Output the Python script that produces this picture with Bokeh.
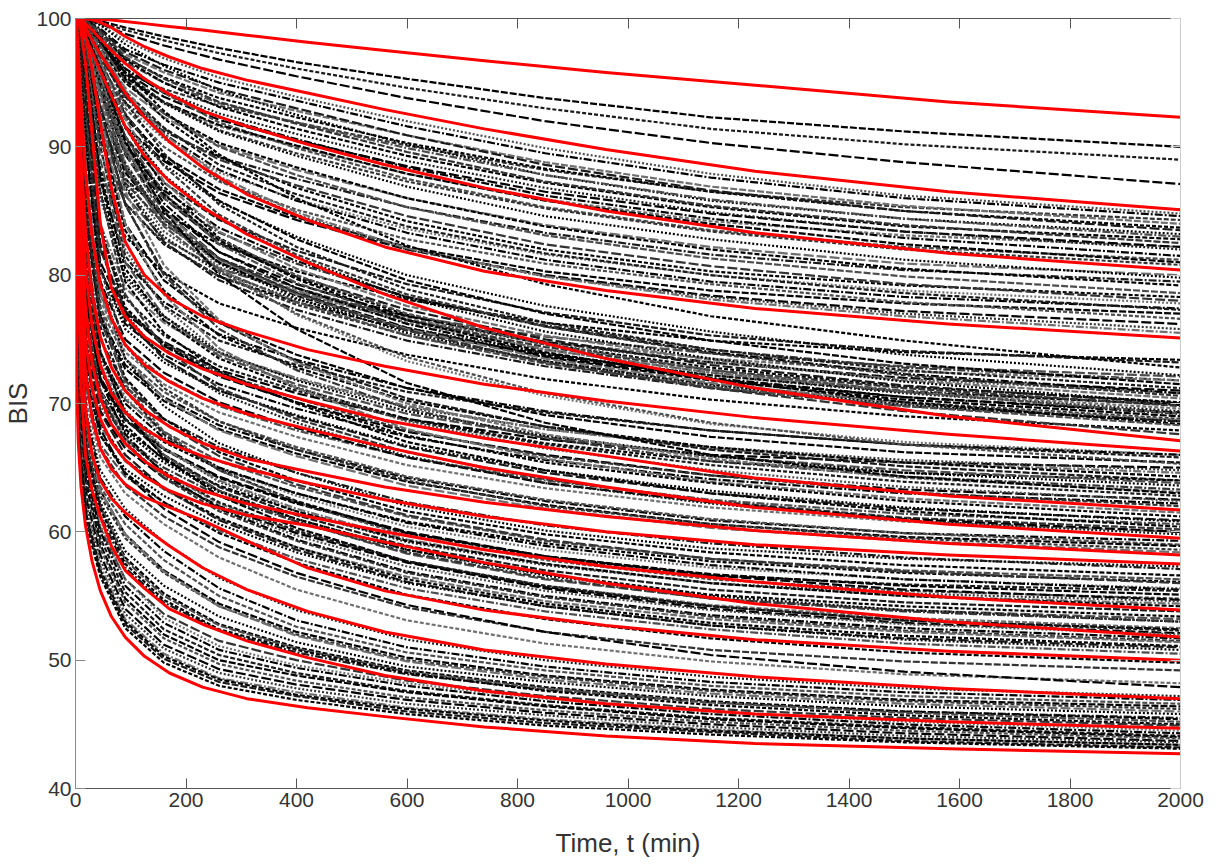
from bokeh.plotting import figure
from bokeh.models import Range1d, LinearAxis, FixedTicker
from bokeh.embed import file_html
from bokeh.resources import INLINE

# Sampling times (min): fine grid for the highlighted curves, coarser for the rest
time_red = [0, 2, 5, 10, 18, 30, 45, 65, 90, 125, 170, 230, 310, 420, 560, 740, 960, 1230, 1580, 2000]
time_black = [0, 3, 8, 20, 45, 90, 160, 260, 400, 600, 850, 1150, 1500, 2000]

# Highlighted (red) BIS trajectories, slow onset
red_slow = [
    [100, 100, 100, 100, 100, 99.99, 99.95, 99.88, 99.77, 99.6, 99.38, 99.1, 98.7, 98.15, 97.5, 96.7, 95.8, 94.8, 93.5, 92.3],
    [100, 100, 100, 100, 99.97, 99.9, 99.7, 99.3, 98.6, 97.8, 97.0, 96.1, 95.2, 94.2, 92.9, 91.4, 89.8, 88.1, 86.5, 85.1],
    [100, 100, 99.98, 99.9, 99.6, 99.1, 98.4, 97.5, 96.5, 95.3, 94.1, 92.8, 91.6, 90.2, 88.6, 86.8, 85.0, 83.3, 81.7, 80.4],
    [100, 100, 99.95, 99.8, 99.3, 98.3, 97.2, 95.9, 94.2, 92.3, 90.4, 88.4, 86.3, 84.3, 82.2, 80.3, 78.8, 77.4, 76.2, 75.1],
    [100, 99.97, 99.8, 99.2, 98.5, 97.4, 95.9, 94.0, 91.6, 89.3, 87.3, 85.3, 83.2, 81.0, 78.5, 75.9, 73.5, 71.2, 69.0, 67.1],
    [100, 99.99, 99.95, 99.8, 98.8, 96.0, 91.8, 86.8, 82.6, 80.0, 78.2, 76.8, 75.6, 74.2, 72.9, 71.5, 70.2, 68.9, 67.6, 66.3],
    [100, 99.97, 99.8, 99.0, 96.5, 91.0, 84.0, 79.0, 76.8, 75.2, 73.9, 72.7, 71.5, 70.2, 68.7, 67.3, 65.9, 64.2, 62.8, 61.7],
]

# Highlighted (red) BIS trajectories, fast onset
red_fast = [
    [100, 99.5, 97.5, 93.5, 88.0, 83.0, 79.3, 76.6, 74.6, 73.0, 71.7, 70.4, 69.2, 68.0, 66.6, 65.0, 63.5, 61.9, 60.6, 59.5],
    [100, 99.0, 95.5, 89.5, 83.5, 78.5, 75.2, 72.8, 71.0, 69.5, 68.2, 66.9, 65.7, 64.7, 63.5, 62.3, 61.2, 60.1, 59.1, 58.2],
    [100, 98.5, 93.5, 86.5, 80.5, 76.0, 73.0, 70.8, 69.3, 68.0, 66.9, 65.9, 64.9, 63.8, 62.5, 61.2, 60.0, 59.0, 58.2, 57.5],
    [100, 97.5, 91.0, 83.5, 77.5, 73.2, 70.4, 68.4, 66.9, 65.5, 64.3, 63.2, 62.2, 61.2, 60.0, 58.6, 57.3, 56.1, 54.9, 53.9],
    [100, 96.5, 89.0, 81.0, 75.0, 71.2, 68.8, 67.0, 65.6, 64.3, 63.2, 62.2, 61.3, 60.5, 59.2, 57.6, 56.0, 54.4, 53.0, 51.8],
    [100, 95.0, 86.5, 78.5, 72.5, 68.8, 66.5, 64.9, 63.7, 62.7, 61.9, 60.9, 59.3, 57.2, 55.4, 53.9, 52.7, 51.6, 50.7, 50.0],
    [100, 93.5, 84.0, 75.5, 69.5, 66.0, 64.0, 62.6, 61.5, 60.3, 58.9, 57.2, 55.5, 53.8, 52.2, 50.8, 49.7, 48.7, 47.8, 47.0],
    [100, 90.0, 79.5, 71.5, 66.0, 63.2, 61.2, 58.9, 57.0, 55.6, 54.0, 52.8, 51.5, 50.2, 48.8, 47.6, 46.6, 45.8, 45.2, 44.7],
    [100, 72.0, 67.0, 63.5, 60.5, 57.7, 55.4, 53.4, 51.8, 50.3, 49.0, 47.9, 47.0, 46.3, 45.6, 44.8, 44.1, 43.5, 43.1, 42.7],
]

# Individual (black, dashed) BIS trajectories, grouped by final level
black_high = [
    [100, 100, 100, 100, 99.8, 99.3, 98.6, 97.7, 96.6, 95.3, 93.8, 92.3, 91.2, 90.0],
    [100, 100, 100, 99.95, 99.7, 99.1, 98.3, 97.3, 96.1, 94.6, 93.0, 91.4, 90.2, 89.0],
    [100, 100, 100, 99.9, 99.6, 98.8, 97.9, 96.8, 95.5, 93.8, 92.0, 90.3, 88.8, 87.1],
    [100, 100, 100, 99.9, 99.5, 98.3, 96.9, 95.4, 93.9, 92.0, 89.9, 87.9, 86.2, 84.8],
    [100, 100, 100, 99.85, 99.2, 97.6, 96.4, 95.0, 93.6, 91.6, 89.5, 87.6, 86.0, 84.6],
    [100, 100, 99.8, 99.3, 98.0, 95.8, 94.5, 93.2, 91.9, 90.1, 88.2, 86.5, 85.3, 84.3],
    [100, 100, 99.95, 99.7, 98.9, 97.2, 95.8, 94.2, 92.8, 90.9, 88.8, 86.9, 85.4, 84.0],
    [100, 100, 99.9, 99.6, 98.7, 96.9, 95.4, 93.8, 92.3, 90.3, 88.3, 86.5, 85.0, 83.7],
    [100, 100, 100, 99.8, 99.1, 97.4, 96.0, 94.5, 93.0, 90.9, 88.6, 86.6, 85.0, 83.5],
    [100, 100, 100, 99.95, 99.5, 98.0, 96.3, 94.4, 92.5, 90.2, 87.8, 85.8, 84.4, 83.2],
    [100, 100, 99.9, 99.6, 98.6, 96.6, 95.0, 93.4, 91.9, 89.9, 87.8, 85.9, 84.4, 83.0],
    [100, 100, 99.95, 99.7, 98.8, 96.8, 95.0, 93.1, 91.4, 89.3, 87.2, 85.3, 83.8, 82.8],
    [100, 100, 100, 99.8, 99.0, 97.0, 95.3, 93.5, 91.8, 89.6, 87.3, 85.4, 83.9, 82.5],
    [100, 100, 99.8, 99.2, 97.7, 95.2, 93.4, 91.6, 90.0, 87.9, 85.9, 84.2, 83.1, 82.2],
    [100, 100, 99.9, 99.4, 98.1, 95.8, 93.9, 92.1, 90.5, 88.5, 86.5, 84.8, 83.4, 82.2],
    [100, 100, 99.9, 99.5, 98.3, 96.0, 94.3, 92.6, 91.0, 88.9, 86.8, 84.9, 83.4, 82.0],
    [100, 100, 99.9, 99.6, 98.5, 96.1, 94.2, 92.3, 90.6, 88.4, 86.2, 84.4, 82.9, 81.5],
    [100, 100, 99.95, 99.7, 98.8, 96.5, 94.2, 91.9, 89.9, 87.5, 85.3, 83.5, 82.2, 81.2],
    [100, 100, 99.8, 99.3, 97.9, 95.4, 93.5, 91.7, 90.1, 87.9, 85.8, 84.0, 82.4, 81.0],
    [100, 100, 99.9, 99.5, 98.2, 95.7, 93.5, 91.3, 89.5, 87.3, 85.2, 83.4, 82.0, 80.8],
    [100, 100, 99.8, 99.1, 97.4, 94.6, 92.3, 90.1, 88.2, 86.0, 83.9, 82.2, 80.9, 80.0],
    [100, 100, 99.85, 99.4, 98.0, 95.6, 93.4, 91.2, 89.3, 86.9, 84.6, 82.8, 81.2, 79.8],
    [100, 99.9, 99.5, 98.5, 96.3, 93.4, 91.2, 89.2, 87.5, 85.3, 83.3, 81.6, 80.4, 79.5],
    [100, 100, 99.8, 99.2, 97.6, 95.0, 92.6, 90.3, 88.4, 86.0, 83.8, 82.0, 80.5, 79.2],
    [100, 100, 99.9, 99.4, 97.9, 95.2, 92.6, 90.0, 87.8, 85.3, 83.1, 81.3, 79.9, 78.6],
    [100, 100, 99.9, 99.6, 98.3, 95.3, 92.2, 89.2, 86.8, 84.2, 82.0, 80.3, 79.2, 78.3],
    [100, 100, 99.7, 98.9, 96.9, 93.9, 91.4, 89.0, 87.0, 84.6, 82.4, 80.7, 79.3, 78.0],
    [100, 99.9, 99.6, 98.7, 96.5, 93.3, 90.6, 88.0, 85.9, 83.6, 81.6, 80.0, 78.8, 77.8],
    [100, 100, 99.8, 99.1, 97.3, 94.0, 91.0, 88.2, 85.8, 83.3, 81.2, 79.5, 78.3, 77.4],
    [100, 100, 99.8, 99.2, 97.5, 94.3, 91.5, 88.6, 86.3, 83.8, 81.7, 80.0, 78.6, 77.3],
    [100, 99.9, 99.5, 98.3, 95.8, 92.2, 89.3, 86.7, 84.5, 82.2, 80.3, 78.8, 77.8, 77.0],
    [100, 99.9, 99.6, 98.7, 96.5, 93.0, 90.0, 87.3, 85.1, 82.8, 80.9, 79.3, 77.9, 76.6],
    [100, 99.9, 99.5, 98.2, 95.4, 91.6, 88.9, 86.4, 84.3, 82.0, 80.0, 78.4, 77.2, 76.2],
    [100, 100, 99.8, 99.1, 97.2, 93.9, 90.7, 87.4, 84.7, 82.0, 79.9, 78.3, 77.0, 75.8],
    [100, 100, 99.8, 99.2, 97.6, 94.4, 91.0, 87.7, 84.9, 82.1, 79.9, 78.1, 76.8, 75.5],
]

black_upper_mid = [
    [100, 99.7, 98.8, 96.5, 92.0, 87.5, 84.8, 82.4, 80.3, 78.1, 76.3, 74.9, 74.0, 73.4],
    [100, 99.9, 99.6, 98.5, 95.5, 90.8, 87.2, 84.3, 81.9, 79.3, 77.1, 75.3, 74.1, 73.2],
    [100, 100, 99.9, 99.5, 98.3, 95.8, 92.8, 89.4, 86.0, 82.3, 79.3, 76.8, 74.9, 72.8],
    [100, 99.7, 98.9, 96.3, 91.5, 86.2, 82.8, 80.5, 78.7, 76.8, 75.2, 73.9, 72.9, 72.1],
    [100, 99.9, 99.5, 98.4, 95.6, 91.6, 88.6, 85.7, 83.0, 80.0, 77.6, 75.6, 73.8, 72.2],
    [100, 99.8, 99.3, 97.8, 94.4, 89.6, 86.2, 83.3, 80.9, 78.3, 76.1, 74.2, 72.8, 71.8],
    [100, 99.9, 99.4, 97.7, 93.8, 88.2, 84.0, 81.0, 78.8, 76.6, 74.8, 73.5, 72.5, 71.8],
    [100, 99.9, 99.7, 98.8, 96.3, 92.5, 89.1, 85.8, 82.8, 79.6, 77.0, 74.9, 73.1, 71.5],
    [100, 99.9, 99.8, 99.2, 97.3, 93.5, 89.5, 85.5, 82.2, 78.9, 76.3, 74.2, 72.6, 71.2],
    [100, 99.9, 99.5, 98.2, 95.0, 89.8, 85.2, 81.8, 79.3, 76.8, 74.8, 73.2, 72.0, 71.0],
    [100, 99.8, 99.2, 97.4, 93.2, 87.6, 83.4, 80.6, 78.6, 76.5, 74.7, 73.2, 71.9, 70.8],
    [100, 99.8, 99.2, 97.6, 94.2, 89.8, 86.6, 83.7, 81.1, 78.3, 76.0, 74.0, 72.3, 70.8],
    [100, 99.9, 99.7, 99.0, 96.8, 92.6, 88.5, 84.7, 81.6, 78.5, 76.0, 73.9, 72.2, 70.6],
    [100, 99.9, 99.7, 98.9, 96.6, 92.2, 87.3, 83.4, 80.5, 77.6, 75.3, 73.4, 71.8, 70.4],
    [100, 99.9, 99.7, 98.8, 96.2, 91.5, 86.9, 82.9, 79.8, 76.9, 74.6, 72.8, 71.3, 70.1],
    [100, 99.9, 99.6, 98.6, 95.8, 90.8, 86.0, 82.5, 79.9, 77.3, 75.0, 73.0, 71.4, 70.0],
    [100, 99.9, 99.6, 98.6, 95.8, 91.5, 87.8, 84.4, 81.4, 78.2, 75.6, 73.5, 71.7, 70.0],
    [100, 99.9, 99.5, 98.3, 95.5, 90.8, 86.4, 82.4, 79.4, 76.5, 74.2, 72.4, 71.0, 69.9],
    [100, 99.6, 98.6, 95.6, 90.5, 85.6, 82.4, 79.9, 77.9, 75.7, 73.8, 72.2, 70.9, 69.9],
    [100, 99.7, 98.8, 96.4, 92.0, 87.2, 84.0, 81.3, 79.0, 76.5, 74.4, 72.6, 71.2, 69.8],
    [100, 99.8, 99.3, 97.8, 94.3, 88.8, 84.2, 81.0, 78.7, 76.3, 74.2, 72.4, 70.9, 69.6],
    [100, 99.8, 99.4, 98.0, 94.6, 89.4, 85.0, 81.3, 78.6, 75.9, 73.7, 71.9, 70.5, 69.3],
    [100, 99.7, 99.0, 96.8, 92.5, 87.0, 83.0, 80.2, 78.1, 75.9, 73.9, 72.2, 70.8, 69.4],
    [100, 99.9, 99.6, 98.5, 95.2, 90.2, 85.6, 81.8, 79.0, 76.2, 73.9, 72.0, 70.5, 69.2],
    [100, 99.8, 99.3, 97.8, 94.4, 89.7, 86.0, 82.8, 80.0, 77.0, 74.6, 72.6, 70.9, 69.2],
    [100, 99.7, 99.0, 97.0, 93.0, 88.0, 84.4, 81.0, 78.4, 75.8, 73.6, 71.8, 70.3, 69.0],
    [100, 99.6, 98.6, 95.8, 90.5, 85.6, 82.5, 79.9, 77.7, 75.3, 73.3, 71.5, 70.1, 68.8],
    [100, 99.9, 99.6, 98.4, 95.3, 90.0, 85.0, 81.2, 78.5, 75.8, 73.5, 71.6, 70.0, 68.7],
    [100, 99.9, 99.5, 98.0, 94.2, 88.6, 84.4, 80.9, 78.2, 75.5, 73.3, 71.4, 69.9, 68.6],
    [100, 99.8, 99.1, 97.0, 92.6, 86.8, 82.6, 79.6, 77.3, 74.9, 72.9, 71.2, 69.8, 68.6],
    [100, 99.9, 99.5, 98.2, 95.0, 90.3, 86.3, 82.7, 79.7, 76.5, 74.0, 71.9, 70.1, 68.4],
    [100, 99.9, 99.5, 98.0, 94.2, 88.5, 83.8, 80.4, 77.9, 75.3, 73.1, 71.3, 69.8, 68.3],
    [100, 99.6, 98.2, 94.5, 88.2, 83.0, 80.2, 77.8, 75.9, 73.8, 71.9, 70.3, 69.0, 67.9],
    [100, 99.7, 99.0, 97.0, 93.2, 88.3, 84.5, 81.3, 78.6, 75.7, 73.2, 71.2, 69.4, 67.6],
    [100, 99.9, 99.6, 98.6, 95.5, 90.0, 85.0, 80.6, 76.9, 73.3, 70.6, 68.4, 67.0, 66.0],
    [100, 99.8, 99.0, 95.5, 87.5, 81.0, 77.9, 75.4, 73.4, 71.2, 69.4, 67.9, 66.8, 66.0],
    [100, 99.9, 99.6, 97.8, 90.0, 81.5, 77.6, 74.9, 73.0, 70.9, 69.3, 67.9, 66.8, 65.8],
    [100, 99.9, 99.4, 97.2, 91.5, 84.0, 79.6, 76.3, 73.8, 71.2, 69.1, 67.4, 66.2, 65.4],
    [100, 99.9, 99.5, 98.3, 95.0, 89.5, 84.5, 80.3, 77.0, 73.6, 70.8, 68.5, 66.8, 65.3],
    [100, 99.5, 97.5, 89.0, 81.0, 77.0, 74.8, 72.6, 70.8, 68.8, 67.2, 66.0, 65.4, 65.0],
    [100, 99.8, 99.0, 95.0, 86.0, 79.8, 76.5, 73.9, 71.9, 69.7, 68.0, 66.6, 65.6, 64.8],
    [100, 99.6, 98.4, 93.0, 84.0, 79.0, 76.3, 73.9, 72.0, 69.8, 68.0, 66.5, 65.4, 64.6],
    [100, 99.9, 99.5, 97.5, 91.0, 83.5, 78.8, 75.3, 72.8, 70.2, 68.2, 66.6, 65.4, 64.3],
    [100, 99.9, 99.5, 97.8, 93.0, 85.5, 80.2, 76.3, 73.3, 70.4, 68.2, 66.4, 65.1, 64.0],
    [100, 99.9, 99.2, 96.0, 88.0, 80.5, 76.5, 73.5, 71.2, 68.8, 66.9, 65.5, 64.6, 64.0],
    [100, 99.9, 99.3, 97.0, 89.0, 81.0, 76.8, 73.7, 71.5, 69.2, 67.4, 65.9, 64.8, 63.8],
    [100, 99.8, 99.0, 95.0, 86.5, 80.0, 76.8, 74.0, 71.8, 69.4, 67.5, 65.9, 64.6, 63.6],
    [100, 99.8, 99.3, 97.5, 92.5, 85.5, 80.0, 75.8, 72.6, 69.6, 67.3, 65.5, 64.3, 63.3],
    [100, 99.9, 99.6, 98.3, 94.0, 86.5, 80.8, 76.5, 73.2, 70.0, 67.6, 65.7, 64.2, 63.1],
    [100, 99.9, 99.7, 98.8, 96.0, 90.5, 85.0, 80.0, 75.8, 71.6, 68.5, 66.0, 64.3, 63.0],
    [100, 99.7, 98.5, 93.0, 83.5, 78.2, 75.3, 72.9, 71.0, 68.7, 66.8, 65.2, 63.9, 62.8],
    [100, 99.5, 97.6, 91.0, 82.0, 77.2, 74.5, 72.1, 70.1, 67.8, 66.0, 64.4, 63.3, 62.5],
    [100, 99.9, 99.4, 97.0, 90.0, 82.0, 77.5, 74.0, 71.3, 68.6, 66.5, 64.8, 63.5, 62.4],
    [100, 99.3, 97.0, 89.5, 80.5, 76.2, 73.8, 71.5, 69.6, 67.4, 65.6, 64.1, 63.0, 62.2],
    [100, 99.6, 98.0, 91.5, 82.0, 77.3, 74.7, 72.4, 70.4, 67.9, 65.9, 64.4, 63.1, 62.0],
]

black_lower_mid = [
    [100, 99.9, 99.6, 98.0, 92.5, 84.0, 78.5, 74.3, 71.2, 68.0, 65.7, 63.9, 62.6, 61.5],
    [100, 99.8, 98.8, 94.0, 83.5, 77.5, 74.6, 72.2, 70.1, 67.5, 65.4, 63.8, 62.4, 61.2],
    [100, 99.6, 98.2, 93.0, 82.5, 76.5, 73.5, 71.0, 69.0, 66.6, 64.6, 63.0, 61.8, 60.9],
    [100, 99.4, 97.0, 90.0, 80.5, 75.8, 73.2, 71.0, 69.1, 66.7, 64.8, 63.2, 61.9, 60.8],
    [100, 98.8, 95.0, 86.5, 78.5, 74.5, 72.0, 69.8, 67.9, 65.8, 64.0, 62.5, 61.4, 60.6],
    [100, 99.9, 99.3, 96.5, 87.5, 79.5, 75.5, 72.5, 70.0, 67.0, 64.8, 63.0, 61.6, 60.4],
    [100, 99.8, 99.0, 95.8, 86.5, 78.5, 74.3, 71.2, 68.8, 66.2, 64.1, 62.4, 61.1, 60.2],
    [100, 98.6, 94.5, 86.0, 78.0, 74.0, 71.5, 69.3, 67.4, 65.2, 63.4, 61.9, 60.8, 60.0],
    [100, 99.0, 96.0, 88.5, 79.5, 75.0, 72.4, 70.1, 68.1, 65.8, 63.8, 62.3, 61.0, 60.0],
    [100, 99.7, 98.5, 94.0, 84.0, 77.0, 73.5, 70.8, 68.5, 65.9, 63.8, 62.2, 60.9, 59.8],
    [100, 97.8, 92.8, 84.0, 76.8, 73.0, 70.5, 68.3, 66.4, 64.2, 62.4, 60.9, 59.9, 59.3],
    [100, 98.0, 93.5, 85.0, 77.5, 73.5, 70.9, 68.6, 66.6, 64.3, 62.5, 61.0, 59.9, 59.0],
    [100, 97.5, 92.0, 83.5, 76.5, 72.7, 70.2, 68.0, 66.1, 63.9, 62.1, 60.6, 59.6, 58.9],
    [100, 99.5, 97.5, 91.0, 80.5, 74.5, 71.2, 68.6, 66.4, 64.0, 62.0, 60.6, 59.5, 58.6],
    [100, 99.0, 96.0, 88.0, 78.5, 73.5, 70.4, 67.9, 65.9, 63.6, 61.8, 60.3, 59.3, 58.4],
    [100, 99.3, 97.0, 90.0, 79.5, 73.5, 69.8, 66.9, 64.6, 62.0, 60.1, 58.7, 57.9, 57.3],
    [100, 97.0, 91.0, 82.0, 75.0, 71.3, 68.8, 66.6, 64.6, 62.3, 60.5, 59.1, 58.0, 57.1],
    [100, 98.5, 94.5, 86.0, 77.0, 72.0, 68.8, 66.2, 64.0, 61.6, 59.8, 58.4, 57.4, 56.6],
    [100, 96.0, 89.0, 80.0, 73.8, 70.3, 67.8, 65.5, 63.5, 61.2, 59.3, 57.9, 57.0, 56.3],
    [100, 95.0, 87.5, 78.5, 72.5, 69.3, 67.0, 64.9, 63.0, 60.8, 59.1, 57.7, 56.8, 56.1],
    [100, 98.0, 93.5, 85.0, 76.5, 71.8, 68.5, 65.9, 63.7, 61.3, 59.4, 57.9, 56.9, 56.0],
    [100, 97.5, 92.0, 83.0, 75.0, 70.5, 67.5, 65.0, 62.8, 60.4, 58.6, 57.2, 56.3, 55.6],
    [100, 96.5, 90.5, 81.5, 74.0, 70.0, 67.3, 65.0, 63.0, 60.7, 58.9, 57.4, 56.3, 55.5],
    [100, 98.0, 93.0, 84.5, 76.0, 71.0, 67.6, 64.8, 62.4, 59.9, 58.0, 56.6, 55.9, 55.4],
    [100, 94.0, 86.0, 77.5, 71.8, 68.7, 66.4, 64.2, 62.2, 59.9, 58.1, 56.7, 55.8, 55.1],
    [100, 98.8, 95.5, 87.5, 77.5, 71.5, 67.8, 64.8, 62.3, 59.7, 57.8, 56.3, 55.4, 54.8],
    [100, 94.5, 87.0, 78.0, 72.0, 68.8, 66.5, 64.3, 62.3, 60.0, 58.1, 56.6, 55.5, 54.7],
    [100, 96.5, 90.0, 80.5, 73.5, 69.5, 66.5, 63.9, 61.6, 59.2, 57.4, 56.0, 55.2, 54.6],
    [100, 95.5, 88.5, 79.5, 73.0, 69.2, 66.5, 64.0, 61.8, 59.4, 57.5, 56.0, 55.0, 54.4],
    [100, 92.5, 84.0, 76.0, 71.0, 68.0, 65.7, 63.6, 61.6, 59.3, 57.5, 56.0, 55.0, 54.2],
    [100, 96.0, 89.5, 80.0, 72.8, 68.8, 66.0, 63.5, 61.3, 58.9, 57.0, 55.5, 54.5, 53.8],
]

black_low = [
    [100, 95.0, 87.0, 78.0, 72.0, 68.3, 65.6, 63.2, 61.0, 58.6, 56.7, 55.1, 54.2, 53.4],
    [100, 97.0, 91.0, 81.5, 74.0, 69.3, 66.0, 63.2, 60.8, 58.3, 56.3, 54.8, 53.9, 53.2],
    [100, 93.0, 84.8, 76.5, 71.0, 67.8, 65.4, 63.1, 61.0, 58.6, 56.6, 55.0, 53.9, 53.0],
    [100, 92.5, 83.5, 75.0, 70.2, 67.3, 65.0, 62.8, 60.8, 58.4, 56.4, 54.8, 53.8, 53.0],
    [100, 94.0, 86.0, 77.0, 71.0, 67.3, 64.6, 62.2, 60.0, 57.7, 55.8, 54.3, 53.3, 52.5],
    [100, 97.0, 91.5, 82.0, 74.0, 69.3, 65.8, 62.8, 60.3, 57.7, 55.7, 54.2, 53.1, 52.4],
    [100, 93.0, 84.5, 76.0, 70.6, 67.2, 64.7, 62.3, 60.1, 57.7, 55.8, 54.2, 53.1, 52.3],
    [100, 91.0, 82.0, 74.0, 69.4, 66.5, 64.2, 62.0, 59.9, 57.6, 55.6, 54.0, 52.9, 52.1],
    [100, 91.5, 82.5, 74.5, 69.8, 66.8, 64.3, 61.9, 59.7, 57.3, 55.4, 53.9, 52.8, 52.0],
    [100, 95.5, 88.0, 78.5, 71.8, 67.6, 64.5, 61.8, 59.4, 56.9, 55.0, 53.5, 52.5, 51.7],
    [100, 94.0, 86.0, 77.0, 70.8, 67.0, 64.2, 61.6, 59.3, 56.8, 54.9, 53.4, 52.3, 51.5],
    [100, 90.0, 80.5, 72.8, 68.2, 65.5, 63.3, 61.0, 58.8, 56.5, 54.6, 53.2, 52.2, 51.4],
    [100, 90.0, 80.5, 73.0, 68.5, 65.6, 63.4, 61.1, 58.8, 56.3, 54.4, 52.9, 51.9, 51.1],
    [100, 92.0, 83.0, 74.5, 69.3, 66.0, 63.4, 60.9, 58.6, 56.1, 54.2, 52.7, 51.7, 51.0],
    [100, 89.5, 79.5, 72.0, 67.5, 64.9, 62.8, 60.6, 58.4, 56.0, 54.2, 52.7, 51.6, 50.8],
    [100, 88.0, 78.0, 71.0, 66.8, 64.3, 62.3, 60.1, 57.9, 55.6, 53.8, 52.4, 51.3, 50.5],
    [100, 89.0, 79.5, 72.0, 67.5, 64.6, 62.3, 59.9, 57.6, 55.1, 53.2, 51.7, 50.6, 49.8],
    [100, 88.5, 78.5, 71.0, 66.5, 63.6, 61.2, 58.8, 56.5, 54.1, 52.2, 50.8, 49.9, 49.2],
    [100, 87.0, 77.0, 70.0, 65.8, 63.0, 60.6, 58.0, 55.5, 53.1, 51.3, 49.9, 48.9, 48.2],
    [100, 91.0, 82.0, 73.5, 68.0, 64.5, 61.8, 59.2, 56.8, 54.3, 52.2, 50.4, 49.1, 47.9],
    [100, 86.0, 76.0, 69.2, 64.8, 61.8, 59.2, 56.4, 53.9, 51.6, 50.0, 48.7, 47.8, 47.2],
    [100, 86.5, 76.0, 69.0, 64.2, 61.2, 58.5, 55.6, 53.1, 51.0, 49.5, 48.3, 47.5, 46.9],
    [100, 85.0, 74.5, 68.0, 63.5, 60.6, 57.8, 55.0, 52.6, 50.6, 49.2, 48.0, 47.2, 46.6],
    [100, 84.5, 74.5, 67.8, 63.2, 59.8, 57.0, 54.4, 52.2, 50.2, 48.8, 47.7, 46.9, 46.4],
    [100, 84.0, 74.0, 67.3, 62.8, 59.5, 56.8, 54.2, 52.0, 50.0, 48.7, 47.6, 46.8, 46.2],
    [100, 85.5, 75.0, 68.0, 63.2, 59.8, 56.9, 54.2, 51.9, 49.9, 48.5, 47.4, 46.6, 46.0],
    [100, 83.0, 73.5, 66.8, 62.3, 58.5, 55.8, 53.4, 51.4, 49.5, 48.3, 47.2, 46.4, 45.8],
    [100, 82.0, 72.5, 66.0, 61.3, 57.2, 54.5, 52.3, 50.6, 48.9, 47.7, 46.7, 46.0, 45.5],
    [100, 83.5, 73.0, 66.5, 62.0, 58.0, 55.2, 52.8, 51.0, 49.2, 47.9, 46.8, 46.0, 45.4],
    [100, 84.0, 73.8, 66.8, 62.0, 57.8, 55.0, 52.7, 50.9, 49.1, 47.8, 46.7, 45.9, 45.2],
    [100, 82.5, 73.0, 66.3, 61.8, 57.5, 54.7, 52.4, 50.8, 49.0, 47.6, 46.5, 45.7, 45.0],
    [100, 80.5, 71.5, 65.0, 60.3, 56.3, 53.6, 51.5, 50.0, 48.4, 47.2, 46.2, 45.5, 44.9],
    [100, 81.0, 71.5, 65.0, 60.5, 56.3, 53.3, 51.1, 49.6, 48.2, 47.0, 46.0, 45.2, 44.5],
    [100, 80.0, 71.0, 64.5, 60.0, 55.8, 52.9, 50.8, 49.4, 48.0, 46.8, 45.8, 45.0, 44.3],
    [100, 79.0, 70.5, 64.0, 59.5, 55.3, 52.4, 50.4, 49.0, 47.6, 46.5, 45.5, 44.8, 44.1],
    [100, 78.0, 70.0, 63.5, 59.0, 54.8, 52.0, 50.0, 48.8, 47.5, 46.4, 45.4, 44.7, 44.0],
    [100, 77.0, 69.0, 63.0, 58.7, 54.5, 51.7, 49.7, 48.4, 47.1, 46.1, 45.2, 44.5, 43.9],
    [100, 76.0, 68.8, 62.5, 58.2, 54.0, 51.2, 49.3, 48.1, 46.9, 45.9, 45.0, 44.3, 43.7],
    [100, 75.0, 68.0, 62.0, 57.8, 53.6, 50.9, 49.0, 47.8, 46.6, 45.7, 44.8, 44.1, 43.6],
    [100, 74.0, 67.5, 61.5, 57.3, 53.2, 50.5, 48.6, 47.5, 46.3, 45.4, 44.6, 43.9, 43.4],
    [100, 73.0, 67.0, 61.3, 57.0, 53.0, 50.3, 48.5, 47.3, 46.2, 45.3, 44.5, 43.9, 43.4],
    [100, 72.5, 66.5, 61.0, 56.8, 52.8, 50.1, 48.3, 47.2, 46.0, 45.1, 44.4, 43.7, 43.2],
    [100, 71.5, 66.0, 60.5, 56.5, 52.5, 49.8, 48.0, 46.9, 45.8, 44.9, 44.2, 43.6, 43.1],
]

x_ticks = [0, 200, 400, 600, 800, 1000, 1200, 1400, 1600, 1800, 2000]
y_ticks = [40, 50, 60, 70, 80, 90, 100]

FONT = "Liberation Sans"
TEXT = "#333333"

p = figure(
    width=1221, height=865,
    x_range=Range1d(0, 2000), y_range=Range1d(40, 100),
    output_backend="svg", toolbar_location=None,
    min_border_left=74, min_border_right=41,
    min_border_top=18, min_border_bottom=77,
)
p.grid.visible = False
p.outline_line_color = None
p.background_fill_color = "white"
p.border_fill_color = "white"

for ax, ticks in ((p.xaxis[0], x_ticks), (p.yaxis[0], y_ticks)):
    ax.ticker = FixedTicker(ticks=ticks)
    ax.major_tick_in = 10
    ax.major_tick_out = 0
    ax.minor_tick_in = 0
    ax.minor_tick_out = 0
    ax.major_label_text_font = FONT
    ax.major_label_text_font_size = "21px"
    ax.major_label_text_color = TEXT
    ax.axis_label_text_font = FONT
    ax.axis_label_text_font_size = "26px"
    ax.axis_label_text_font_style = "normal"
    ax.axis_label_text_color = TEXT
    ax.major_label_standoff = 4

p.xaxis[0].axis_label = "Time, t (min)"
p.xaxis[0].axis_label_standoff = 18
p.xaxis[0].axis_line_color = "#555555"
p.xaxis[0].major_tick_line_color = "#555555"
p.yaxis[0].axis_label = "BIS"
p.yaxis[0].axis_label_standoff = 0
p.yaxis[0].axis_line_color = "#8a8a8a"
p.yaxis[0].major_tick_line_color = "#8a8a8a"

# Mirrored box axes (top and right) carrying ticks only
top_ax = LinearAxis(ticker=FixedTicker(ticks=x_ticks),
                    major_label_overrides={t: "" for t in x_ticks})
right_ax = LinearAxis(ticker=FixedTicker(ticks=y_ticks),
                      major_label_overrides={t: "" for t in y_ticks})
for ax, col in ((top_ax, "#555555"), (right_ax, "#cccccc")):
    ax.major_tick_in = 10
    ax.major_tick_out = 0
    ax.minor_tick_in = 0
    ax.minor_tick_out = 0
    ax.axis_line_color = col
    ax.major_tick_line_color = col
    ax.major_label_standoff = 0
    ax.major_label_text_font_size = "1px"
p.add_layout(top_ax, "above")
p.add_layout(right_ax, "right")

dashes = ["7 2", "4 2", "10 3", "2 2", "8 2 2 2", "5 2"]
shades = ["#000000", "#1a1a1a", "#000000", "#4d4d4d", "#000000", "#333333", "#707070"]

k = 0
for group in (black_high, black_upper_mid, black_lower_mid, black_low):
    for curve in group:
        p.line(time_black, curve, line_color=shades[k % len(shades)],
               line_width=2.2, line_dash=dashes[k % len(dashes)])
        k += 1

for group in (red_slow, red_fast):
    for curve in group:
        p.line(time_red, curve, line_color="#ff0000", line_width=3,
               line_join="round")

open("out.html", "w").write(file_html(p, INLINE))
